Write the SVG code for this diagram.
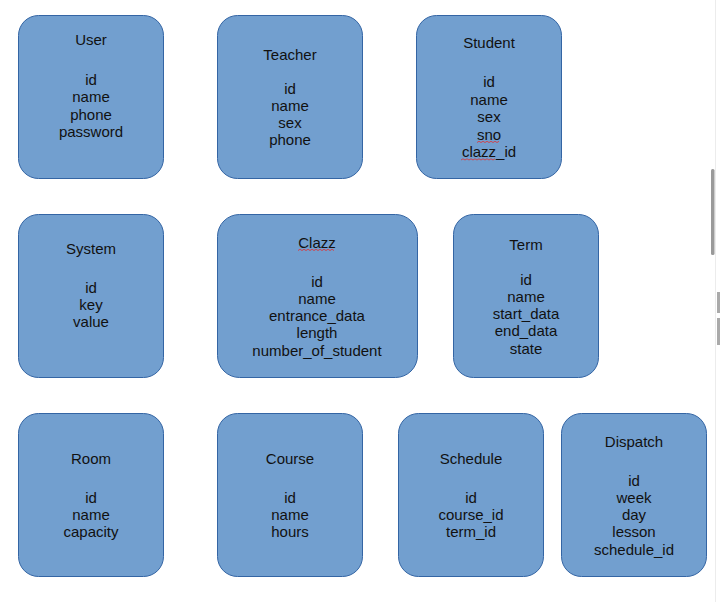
<svg xmlns="http://www.w3.org/2000/svg" width="720" height="602" viewBox="0 0 720 602">
<defs>
<style>
.box{fill:#729fcf;stroke:#3465a4;stroke-width:1}
.t{font-family:"Liberation Sans",Arial,sans-serif;font-size:15px;fill:#111;text-anchor:middle}
.sq{fill:none;stroke:#e03030;stroke-width:0.8}
</style>
</defs>
<rect width="720" height="602" fill="#fff"/>
<line x1="715.5" y1="0" x2="715.5" y2="602" stroke="#ececec"/>
<rect x="711" y="169" width="3.5" height="86" rx="1.5" fill="#9a9a9a"/>
<rect x="717" y="292" width="3" height="21" fill="#aaa"/>
<rect x="717" y="318" width="3" height="27" fill="#aaa"/>

<g id="user">
<rect class="box" x="18.5" y="15.5" width="145" height="163" rx="20"/>
<text class="t" x="91" y="45">User</text>
<text class="t" x="91" y="85">id</text>
<text class="t" x="91" y="102.3">name</text>
<text class="t" x="91" y="119.6">phone</text>
<text class="t" x="91" y="136.9">password</text>
</g>
<g id="teacher">
<rect class="box" x="217.5" y="15.5" width="145" height="163" rx="20"/>
<text class="t" x="290" y="59.5">Teacher</text>
<text class="t" x="290" y="93.5">id</text>
<text class="t" x="290" y="110.8">name</text>
<text class="t" x="290" y="128.1">sex</text>
<text class="t" x="290" y="145.4">phone</text>
</g>
<g id="student">
<rect class="box" x="416.5" y="15.5" width="145" height="163" rx="20"/>
<text class="t" x="489" y="48">Student</text>
<text class="t" x="489" y="87">id</text>
<text class="t" x="489" y="104.5">name</text>
<text class="t" x="489" y="122">sex</text>
<text class="t" x="489" y="139.5">sno</text>
<text class="t" x="489" y="157">clazz_id</text>
<path class="sq" d="M477 142.5 l2 -1.2 l2 1.2 l2 -1.2 l2 1.2 l2 -1.2 l2 1.2 l2 -1.2 l2 1.2 l2 -1.2 l2 1.2 l2 -1.2"/>
<path class="sq" d="M461 160 l2 -1.2 l2 1.2 l2 -1.2 l2 1.2 l2 -1.2 l2 1.2 l2 -1.2 l2 1.2 l2 -1.2 l2 1.2 l2 -1.2 l2 1.2 l2 -1.2 l2 1.2 l2 -1.2 l2 1.2 l2 -1.2"/>
</g>

<g id="system">
<rect class="box" x="18.5" y="214.5" width="145" height="163" rx="20"/>
<text class="t" x="91" y="253.5">System</text>
<text class="t" x="91" y="292.5">id</text>
<text class="t" x="91" y="309.8">key</text>
<text class="t" x="91" y="327.1">value</text>
</g>
<g id="clazz">
<rect class="box" x="217.5" y="214.5" width="200" height="163" rx="22"/>
<text class="t" x="317" y="248">Clazz</text>
<text class="t" x="317" y="286.5">id</text>
<text class="t" x="317" y="303.8">name</text>
<text class="t" x="317" y="321.1">entrance_data</text>
<text class="t" x="317" y="338.4">length</text>
<text class="t" x="317" y="355.7">number_of_student</text>
<path class="sq" d="M298 250.5 l2 -1.2 l2 1.2 l2 -1.2 l2 1.2 l2 -1.2 l2 1.2 l2 -1.2 l2 1.2 l2 -1.2 l2 1.2 l2 -1.2 l2 1.2 l2 -1.2 l2 1.2 l2 -1.2 l2 1.2 l2 -1.2 l2 1.2"/>
</g>
<g id="term">
<rect class="box" x="453.5" y="214.5" width="145" height="163" rx="20"/>
<text class="t" x="526" y="249.5">Term</text>
<text class="t" x="526" y="284.5">id</text>
<text class="t" x="526" y="301.8">name</text>
<text class="t" x="526" y="319.1">start_data</text>
<text class="t" x="526" y="336.4">end_data</text>
<text class="t" x="526" y="353.7">state</text>
</g>

<g id="room">
<rect class="box" x="18.5" y="413.5" width="145" height="163" rx="20"/>
<text class="t" x="91" y="463.5">Room</text>
<text class="t" x="91" y="502.5">id</text>
<text class="t" x="91" y="519.8">name</text>
<text class="t" x="91" y="537.1">capacity</text>
</g>
<g id="course">
<rect class="box" x="217.5" y="413.5" width="145" height="163" rx="20"/>
<text class="t" x="290" y="463.5">Course</text>
<text class="t" x="290" y="502.5">id</text>
<text class="t" x="290" y="519.8">name</text>
<text class="t" x="290" y="537.1">hours</text>
</g>
<g id="schedule">
<rect class="box" x="398.5" y="413.5" width="145" height="163" rx="20"/>
<text class="t" x="471" y="463.5">Schedule</text>
<text class="t" x="471" y="502.5">id</text>
<text class="t" x="471" y="519.8">course_id</text>
<text class="t" x="471" y="537.1">term_id</text>
</g>
<g id="dispatch">
<rect class="box" x="561.5" y="413.5" width="145" height="163" rx="20"/>
<text class="t" x="634" y="446.5">Dispatch</text>
<text class="t" x="634" y="485.5">id</text>
<text class="t" x="634" y="502.8">week</text>
<text class="t" x="634" y="520.1">day</text>
<text class="t" x="634" y="537.4">lesson</text>
<text class="t" x="634" y="554.7">schedule_id</text>
</g>
<g id="connectors"></g>
</svg>
